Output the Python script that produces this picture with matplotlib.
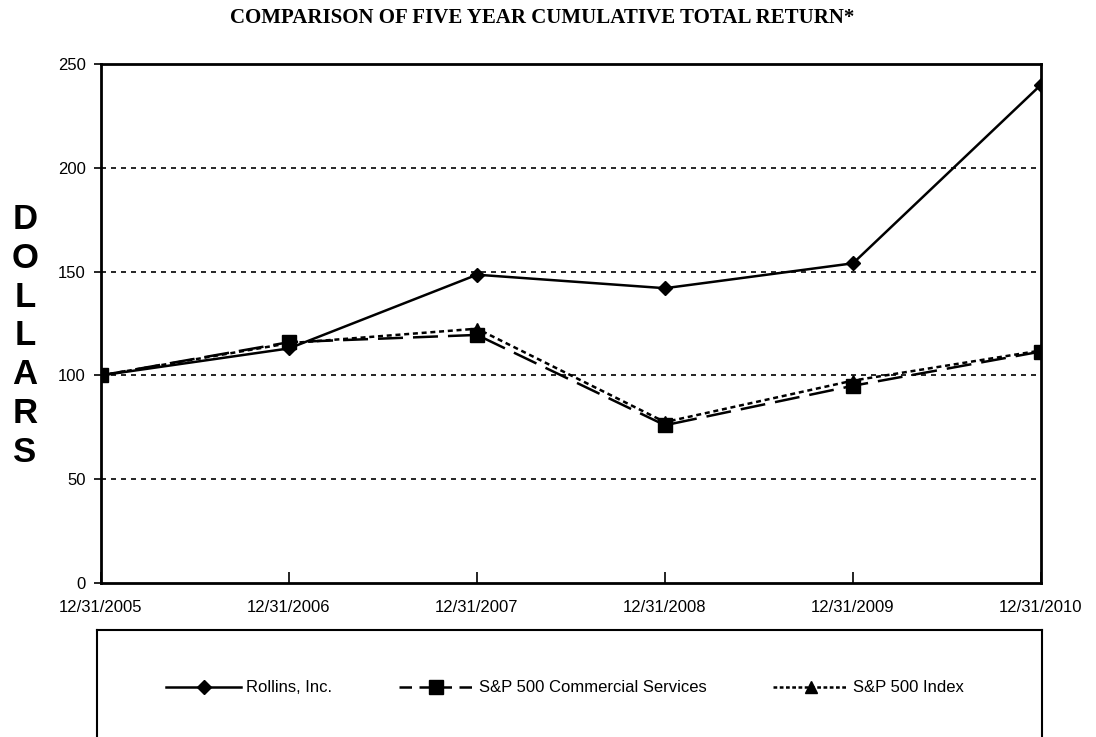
import matplotlib
matplotlib.use("Agg")
import matplotlib.pyplot as plt
from matplotlib.lines import Line2D

years = ["12/31/2005", "12/31/2006", "12/31/2007", "12/31/2008", "12/31/2009", "12/31/2010"]
rollins = [100, 113, 148.5, 142, 154, 240]
commercial = [100, 116, 119.5, 76, 95, 111.5]
sp500 = [100, 115.5, 122.5, 77.5, 97.5, 112]
y_ticks = [0, 50, 100, 150, 200, 250]

plt.rcParams["font.family"] = ["Liberation Sans", "DejaVu Sans"]

fig = plt.figure(figsize=(10.96, 7.37), dpi=100)
ax = fig.add_axes([101 / 1096, 1 - 583 / 737, 940 / 1096, 519 / 737])

x = list(range(len(years)))
ax.plot(x, rollins, color="black", lw=1.8, marker="D", markersize=7, label="Rollins, Inc.")
ax.plot(x, commercial, color="black", lw=1.8, ls=(0, (10, 4)), marker="s", markersize=10,
        label="S&P 500 Commercial Services")
ax.plot(x, sp500, color="black", lw=1.8, ls=(0, (2, 1.5)), marker="^", markersize=8,
        label="S&P 500 Index")

ax.set_xlim(0, 5)
ax.set_ylim(0, 250)
ax.set_yticks(y_ticks)
ax.set_xticks(x)
ax.set_xticklabels(years)
for v in [50, 100, 150, 200]:
    ax.axhline(v, color="black", lw=1.2, ls=(0, (3, 3)), zorder=0)
for s in ax.spines.values():
    s.set_linewidth(2)
ax.tick_params(axis="x", direction="in", length=8, width=1.2, labelsize=12, pad=12)
ax.tick_params(axis="y", direction="out", length=5, width=1.2, labelsize=12, pad=6)

fig.text(542 / 1096, 1 - 18 / 737, "COMPARISON OF FIVE YEAR CUMULATIVE TOTAL RETURN*",
         family="Liberation Serif", weight="bold", fontsize=15, ha="center", va="center")
fig.text(25 / 1096, 1 - 336 / 737, "D\nO\nL\nL\nA\nR\nS", fontsize=25, weight="bold",
         ha="center", va="center", linespacing=1.22)

# legend box
lax = fig.add_axes([97 / 1096, -0.05, 945 / 1096, 1 - 630 / 737 + 0.05])
lax.set_xticks([])
lax.set_yticks([])
for s in lax.spines.values():
    s.set_linewidth(1.5)
handles = [
    Line2D([], [], color="black", lw=1.8, marker="D", markersize=7),
    Line2D([], [], color="black", lw=1.8, ls=(0, (5, 3)), marker="s", markersize=10),
    Line2D([], [], color="black", lw=1.8, ls=(0, (1.5, 1)), marker="^", markersize=8),
]
labels = ["Rollins, Inc.", "S&P 500 Commercial Services", "S&P 500 Index"]
fig.legend(handles, labels, loc="center", bbox_to_anchor=(565 / 1096, 1 - 688 / 737), ncol=3,
           frameon=False, handlelength=4.5, fontsize=12, columnspacing=4, handletextpad=0.3)

fig.savefig("out.png", dpi=100)
